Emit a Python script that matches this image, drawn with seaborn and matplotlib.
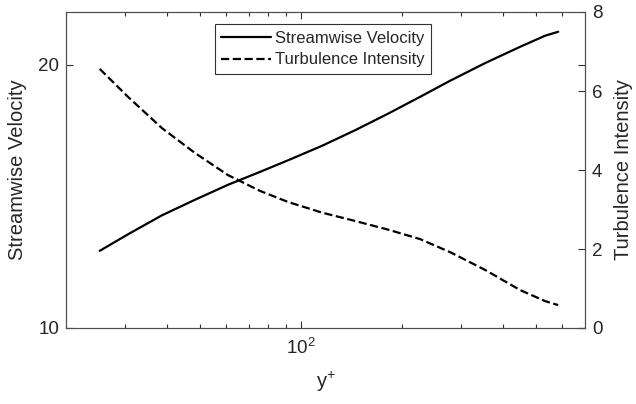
import numpy as np
import pandas as pd
import matplotlib
matplotlib.use("Agg")
import matplotlib.pyplot as plt
import seaborn as sns
from matplotlib.ticker import FixedLocator, NullFormatter

# Data
y_plus = [25.2, 30.6, 38.6, 48.4, 60.7, 75.6, 91.6, 115.6, 144.9, 181.7,
          226.3, 277.9, 353.2, 449.0, 532.9, 582.6]
streamwise_velocity = [12.93, 13.56, 14.28, 14.87, 15.44, 15.93, 16.37, 16.92,
                       17.51, 18.14, 18.78, 19.39, 20.06, 20.68, 21.10, 21.25]
turbulence_intensity = [6.56, 5.85, 5.06, 4.43, 3.87, 3.47, 3.19, 2.92,
                        2.71, 2.49, 2.25, 1.92, 1.47, 0.96, 0.68, 0.58]
left_ticks = [10, 20]
right_ticks = [0, 2, 4, 6, 8]
x_major = [100]
x_minor = [30, 40, 50, 60, 70, 80, 90, 200, 300, 400, 500, 600]

sns.set_style("ticks")
plt.rcParams['font.family'] = ['Liberation Sans', 'DejaVu Sans']
plt.rcParams['mathtext.fontset'] = 'custom'
plt.rcParams['mathtext.rm'] = 'Liberation Sans'

df = pd.DataFrame({"y+": y_plus, "U": streamwise_velocity, "TI": turbulence_intensity})

fig = plt.figure(figsize=(6.36, 4.04), dpi=100)
ax = fig.add_axes([66/636, 1-328/404, (585-66)/636, (328-12)/404])
ax2 = ax.twinx()

sp_col = '0.2'
txt_col = '0.15'

sns.lineplot(data=df, x="y+", y="U", ax=ax, color='black', linewidth=1.6,
             label="Streamwise Velocity", legend=False)
sns.lineplot(data=df, x="y+", y="TI", ax=ax2, color='black', linewidth=1.6,
             linestyle='--', label="Turbulence Intensity", legend=False)

ax.set_xscale('log')
ax.set_xlim(20, 700)
ax.set_ylim(10, 22)
ax2.set_ylim(0, 8)
ax.set_yticks(left_ticks)
ax.set_yticklabels([str(t) for t in left_ticks])
ax2.set_yticks(right_ticks)
ax2.set_yticklabels([str(t) for t in right_ticks])
ax.xaxis.set_major_locator(FixedLocator(x_major))
ax.set_xticklabels([r"$\mathregular{10^{2}}$"])
ax.xaxis.set_minor_locator(FixedLocator(x_minor))
ax.xaxis.set_minor_formatter(NullFormatter())

for a in (ax, ax2):
    for s in a.spines.values():
        s.set_visible(True)
        s.set_color('0.3')
        s.set_linewidth(0.8)

ax.tick_params(axis='x', which='both', direction='in', top=True, bottom=True,
               colors=sp_col, labelcolor=txt_col, labelsize=13.5, pad=7, width=0.8)
ax.tick_params(axis='x', which='major', length=5)
ax.tick_params(axis='x', which='minor', length=3)
ax.tick_params(axis='y', which='major', direction='in', left=True, right=True,
               length=5, width=0.8, colors=sp_col, labelcolor=txt_col, labelsize=13.5, pad=5)
ax2.tick_params(axis='y', which='major', direction='in', right=True, length=5, width=0.8,
                colors=sp_col, labelcolor=txt_col, labelsize=13.5, pad=5)

ax.set_xlabel(r"y$^{\mathregular{+}}$", fontsize=14.5, color=txt_col, labelpad=9)
ax.set_ylabel("Streamwise Velocity", fontsize=14.5, color=txt_col, labelpad=8)
ax2.set_ylabel("Turbulence Intensity", fontsize=14.5, color=txt_col, labelpad=8)

h1, l1 = ax.get_legend_handles_labels()
h2, l2 = ax2.get_legend_handles_labels()
leg = ax2.legend(h1 + h2, l1 + l2, loc='upper center', bbox_to_anchor=(0.495, 0.962),
                 fontsize=12, frameon=True, fancybox=False, framealpha=1,
                 edgecolor='0.2', handlelength=3.0, handletextpad=0.2,
                 borderpad=0.4, labelspacing=0.4, borderaxespad=0)
leg.get_frame().set_linewidth(0.8)

fig.savefig("out.png", dpi=100)
